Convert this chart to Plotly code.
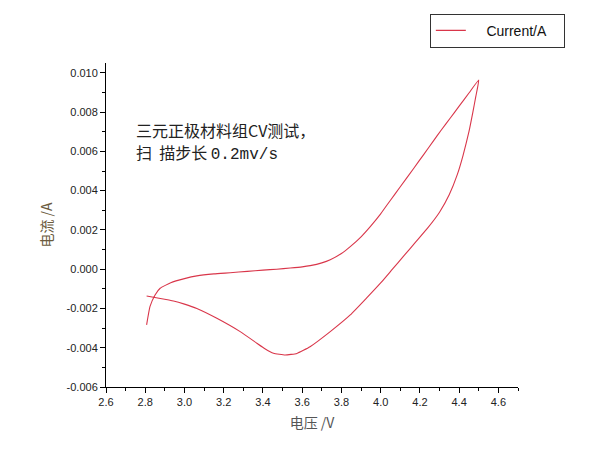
import plotly.graph_objects as go

# CV loop: upper (anodic) branch from 2.8 V up to 4.5 V, then lower branch back to 2.8 V
voltage = [2.807, 2.824, 2.85, 2.876, 2.93, 3.0, 3.063, 3.15, 3.233, 3.32, 3.40, 3.47, 3.539, 3.60,
           3.641, 3.70, 3.743, 3.80, 3.845, 3.90, 3.947, 4.0, 4.049, 4.10, 4.168, 4.22, 4.27, 4.31, 4.355,
           4.40, 4.45, 4.50,
           4.485, 4.47, 4.45, 4.42, 4.39, 4.35, 4.30, 4.24, 4.18, 4.12, 4.06, 4.0, 3.93, 3.845,
           3.743, 3.64, 3.573, 3.513, 3.454, 3.41, 3.369, 3.284, 3.165, 3.063, 3.0, 2.944, 2.87, 2.807]
current = [-0.00284, -0.00191, -0.00131, -0.00097, -0.00069, -0.00048, -0.00034, -0.00024, -0.00018, -0.00011, -0.00005, 0.0, 0.00006, 0.00012,
           0.00018, 0.00032, 0.00048, 0.00080, 0.00115, 0.00165, 0.00217, 0.00282, 0.00350, 0.00420, 0.00513, 0.00585, 0.00655, 0.00710, 0.00770,
           0.00830, 0.00897, 0.00964,
           0.0088, 0.0080, 0.0070, 0.0058, 0.0048, 0.0038, 0.0029, 0.0021, 0.0014, 0.0007, 0.0000, -0.0007, -0.00145, -0.00233,
           -0.00318, -0.00395, -0.00429, -0.00437, -0.00428, -0.00405, -0.00377, -0.00318, -0.00250, -0.00200, -0.00178, -0.00162, -0.00148, -0.00137]

x_ticks = [2.6, 2.8, 3.0, 3.2, 3.4, 3.6, 3.8, 4.0, 4.2, 4.4, 4.6]
y_ticks = [-0.006, -0.004, -0.002, 0.000, 0.002, 0.004, 0.006, 0.008, 0.010]

note_line1 = "三元正极材料组CV测试，"
note_line2 = "扫\u00a0 描步长 <span style='font-family:Liberation Mono'>0.2mv/s</span>"

NB = "\u00a0"
fig = go.Figure()
fig.add_trace(go.Scatter(
    x=voltage, y=current, mode="lines", name=NB * 4 + "Current/A" + NB * 3,
    line=dict(color="#d9364a", width=1.1, shape="spline", smoothing=0.4),
))

tickfont = dict(family="Liberation Sans, Arial, sans-serif", size=11, color="#222")
notefont = dict(family="Noto Sans CJK SC", size=16, color="#222")
fig.update_layout(
    width=600, height=463,
    margin=dict(l=106, r=82, t=63, b=76, autoexpand=False),
    paper_bgcolor="white", plot_bgcolor="white",
    showlegend=True,
    legend=dict(x=0.786, y=1.152, xanchor="left", yanchor="top",
                bgcolor="white", bordercolor="#333", borderwidth=1,
                font=dict(family="Liberation Sans, Arial, sans-serif", size=14, color="#111"),
                tracegroupgap=0),
    annotations=[
        dict(x=0.070, y=0.7932, xref="paper", yref="paper", xanchor="left", yanchor="middle",
             showarrow=False, text=note_line1, font=notefont, borderpad=0),
        dict(x=0.070, y=0.7253, xref="paper", yref="paper", xanchor="left", yanchor="middle",
             showarrow=False, text=note_line2, font=notefont, borderpad=0),
    ],
)
fig.update_xaxes(
    range=[2.6, 4.7], tickvals=x_ticks, ticktext=[f"{v:.1f}" for v in x_ticks],
    showgrid=False, zeroline=False, showline=True, linecolor="black", linewidth=1,
    ticks="outside", ticklen=5, tickcolor="black", tickfont=tickfont, automargin=False,
    minor=dict(ticks="outside", ticklen=3, dtick=0.1, tickcolor="black"),
    title=dict(text="电压 /V", font=dict(family="Noto Sans CJK SC", size=14, color="#555"), standoff=10),
)
fig.update_yaxes(
    range=[-0.006, 0.0105], tickvals=y_ticks, ticktext=[f"{v:.3f}" for v in y_ticks],
    showgrid=False, zeroline=False, showline=True, linecolor="black", linewidth=1,
    ticks="outside", ticklen=5, tickcolor="black", tickfont=tickfont, automargin=False,
    minor=dict(ticks="outside", ticklen=3, dtick=0.001, tickcolor="black"),
    title=dict(text="电流 /A", font=dict(family="Noto Sans CJK SC", size=14, color="#6b5b3e"), standoff=10),
)

fig.write_html(
    "out.html",
    config={"displayModeBar": False},
    post_script="document.body.style.margin='0';document.body.style.overflow='hidden';",
)
